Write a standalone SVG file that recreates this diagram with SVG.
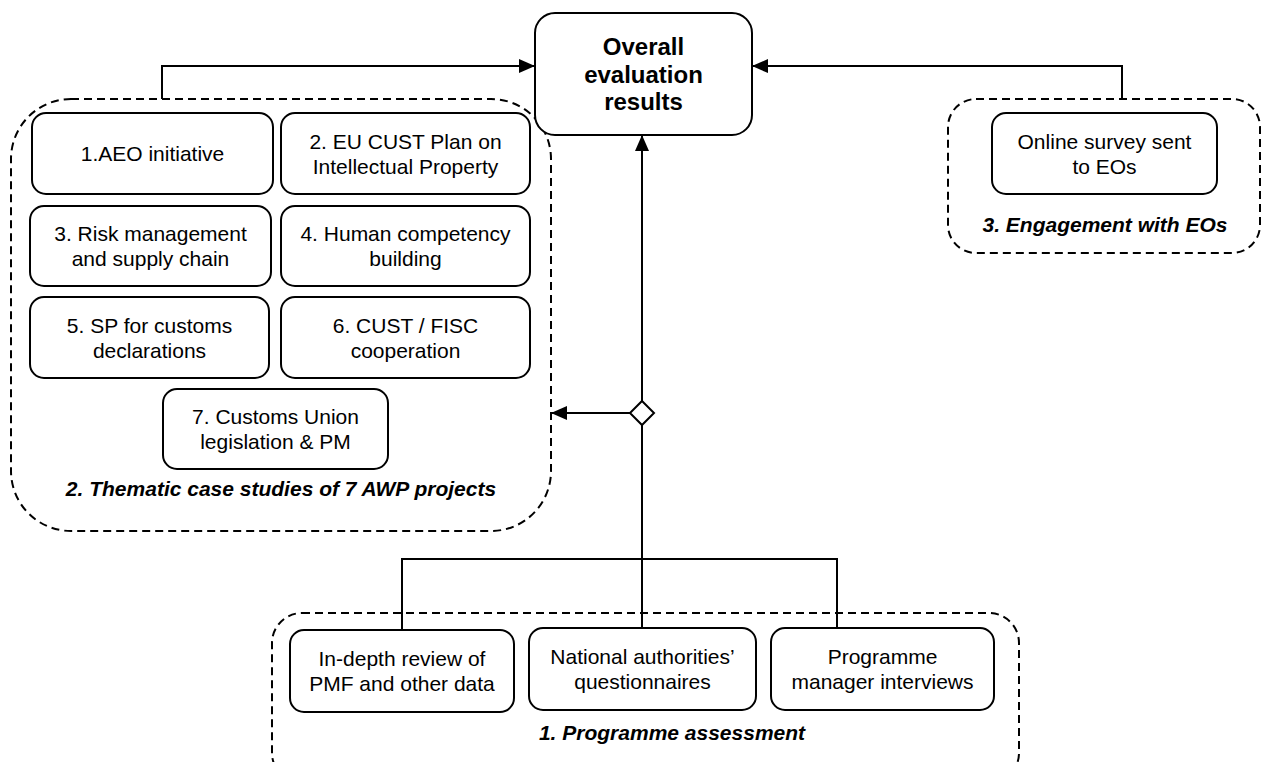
<svg xmlns="http://www.w3.org/2000/svg" width="1267" height="762" viewBox="0 0 1267 762">
<defs>
<style>
.box{fill:#fff;stroke:#000;stroke-width:2}
.grp{fill:none;stroke:#000;stroke-width:2;stroke-dasharray:8 5}
.t{font-family:"Liberation Sans",Arial,sans-serif;font-size:21px;fill:#000;text-anchor:middle}
.b{font-weight:bold;font-size:24px}
.lbl{font-family:"Liberation Sans",Arial,sans-serif;font-size:21px;font-weight:bold;font-style:italic;fill:#000;text-anchor:middle}
.c{fill:none;stroke:#000;stroke-width:2}
</style>
<marker id="arr" viewBox="0 0 16 14" refX="16" refY="7" markerWidth="16" markerHeight="14" markerUnits="userSpaceOnUse" orient="auto">
<path d="M0,0 L16,7 L0,14 Z" fill="#000"/>
</marker>
</defs>
<rect width="1267" height="762" fill="#fff"/>

<g id="group-thematic">
<rect class="grp" x="11" y="99" width="540" height="432" rx="60" ry="60"/>
<text class="lbl" x="281" y="496">2. Thematic case studies of 7 AWP projects</text>
</g>
<g id="group-engagement">
<rect class="grp" x="948" y="99" width="312" height="154" rx="28" ry="28"/>
<text class="lbl" x="1105" y="232">3. Engagement with EOs</text>
</g>
<g id="group-programme">
<rect class="grp" x="272" y="613" width="747" height="170" rx="30" ry="30"/>
<text class="lbl" x="672" y="740">1. Programme assessment</text>
</g>

<g id="connectors">
<polyline class="c" points="162,99 162,66 535,66" marker-end="url(#arr)"/>
<polyline class="c" points="1122,99 1122,66 752,66" marker-end="url(#arr)"/>
<line class="c" x1="642" y1="402" x2="642" y2="135" marker-end="url(#arr)"/>
<line class="c" x1="630" y1="413" x2="551" y2="413" marker-end="url(#arr)"/>
<line class="c" x1="642" y1="424" x2="642" y2="559" stroke-width="2.5"/>
<polyline class="c" points="402,630 402,559 837,559 837,628"/>
<line class="c" x1="642" y1="559" x2="642" y2="628"/>
<path d="M642,401 L654,413 L642,425 L630,413 Z" fill="#fff" stroke="#000" stroke-width="2"/>
</g>

<g id="overall">
<rect class="box" x="535" y="13" width="217" height="122" rx="20" ry="20"/>
<text class="t b"><tspan x="643.5" y="55">Overall</tspan><tspan x="643.5" y="82.5">evaluation</tspan><tspan x="643.5" y="110">results</tspan></text>
</g>

<g id="n1">
<rect class="box" x="32" y="113" width="241" height="81" rx="14" ry="14"/>
<text class="t" x="152.5" y="161">1.AEO initiative</text>
</g>
<g id="n2">
<rect class="box" x="281" y="113" width="249" height="81" rx="14" ry="14"/>
<text class="t"><tspan x="405.5" y="148.5">2. EU CUST Plan on</tspan><tspan x="405.5" y="173.5">Intellectual Property</tspan></text>
</g>
<g id="n3">
<rect class="box" x="30" y="206" width="241" height="80" rx="14" ry="14"/>
<text class="t"><tspan x="150.5" y="241">3. Risk management</tspan><tspan x="150.5" y="266">and supply chain</tspan></text>
</g>
<g id="n4">
<rect class="box" x="281" y="206" width="249" height="80" rx="14" ry="14"/>
<text class="t"><tspan x="405.5" y="241">4. Human competency</tspan><tspan x="405.5" y="266">building</tspan></text>
</g>
<g id="n5">
<rect class="box" x="30" y="297" width="239" height="81" rx="14" ry="14"/>
<text class="t"><tspan x="149.5" y="332.5">5. SP for customs</tspan><tspan x="149.5" y="357.5">declarations</tspan></text>
</g>
<g id="n6">
<rect class="box" x="281" y="297" width="249" height="81" rx="14" ry="14"/>
<text class="t"><tspan x="405.5" y="332.5">6. CUST / FISC</tspan><tspan x="405.5" y="357.5">cooperation</tspan></text>
</g>
<g id="n7">
<rect class="box" x="163" y="389" width="225" height="80" rx="14" ry="14"/>
<text class="t"><tspan x="275.5" y="424">7. Customs Union</tspan><tspan x="275.5" y="449">legislation &amp; PM</tspan></text>
</g>
<g id="online">
<rect class="box" x="992" y="113" width="225" height="81" rx="14" ry="14"/>
<text class="t"><tspan x="1104.5" y="148.5">Online survey sent</tspan><tspan x="1104.5" y="173.5">to EOs</tspan></text>
</g>
<g id="review">
<rect class="box" x="290" y="630" width="224" height="82" rx="14" ry="14"/>
<text class="t"><tspan x="402" y="666">In-depth review of</tspan><tspan x="402" y="691">PMF and other data</tspan></text>
</g>
<g id="questionnaires">
<rect class="box" x="529" y="628" width="227" height="82" rx="14" ry="14"/>
<text class="t"><tspan x="642.5" y="664">National authorities’</tspan><tspan x="642.5" y="689">questionnaires</tspan></text>
</g>
<g id="interviews">
<rect class="box" x="771" y="628" width="223" height="82" rx="14" ry="14"/>
<text class="t"><tspan x="882.5" y="664">Programme</tspan><tspan x="882.5" y="689">manager interviews</tspan></text>
</g>
</svg>
